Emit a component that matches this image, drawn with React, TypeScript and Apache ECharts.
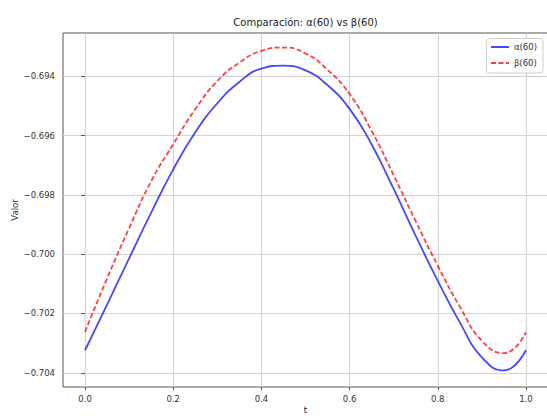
import React, { useEffect, useRef } from "react";
import * as echarts from "echarts";

const tValues = [0, 0.05, 0.1, 0.15, 0.2, 0.25, 0.3, 0.35, 0.4, 0.45, 0.5, 0.55, 0.6, 0.65, 0.7, 0.75, 0.8, 0.85, 0.9, 0.95, 1.0];
const alphaValues = [-0.70324, -0.7017, -0.70014, -0.6986, -0.69714, -0.69589, -0.69491, -0.69419, -0.69374, -0.69364, -0.6938, -0.6943, -0.6951, -0.6963, -0.6978, -0.69938, -0.7009, -0.7023, -0.70348, -0.70392, -0.70324];
const betaValues = [-0.70262, -0.70082, -0.69912, -0.69754, -0.69629, -0.69511, -0.69416, -0.69354, -0.69314, -0.69303, -0.69323, -0.69378, -0.6946, -0.69584, -0.69734, -0.69889, -0.70039, -0.70177, -0.70292, -0.70334, -0.70264];
const xTicks = [0, 0.2, 0.4, 0.6, 0.8, 1.0];
const yTicks = [-0.704, -0.702, -0.7, -0.698, -0.696, -0.694];
const seriesNames = ["α(60)", "β(60)"];
const titleText = "Comparación: α(60) vs β(60)";

const FONT = "DejaVu Sans";

export default function App() {
  const ref = useRef<HTMLDivElement>(null);
  useEffect(() => {
    if (!ref.current) return;
    const chart = echarts.init(ref.current, undefined, { renderer: "svg" });
    const alphaData = tValues.map((t, i) => [t, alphaValues[i]]);
    const betaData = tValues.map((t, i) => [t, betaValues[i]]);
    const fmtY = (v: number) => (v < 0 ? "\u2212" : "") + Math.abs(v).toFixed(3);
    chart.setOption({
      animation: false,
      backgroundColor: "#ffffff",
      textStyle: { fontFamily: FONT },
      title: {
        text: titleText,
        left: 305.5,
        top: 16,
        textAlign: "center",
        padding: 0,
        textStyle: { fontFamily: FONT, fontSize: 10, fontWeight: "normal", color: "#222", lineHeight: 12 },
      },
      legend: {
        orient: "vertical",
        right: 4,
        top: 38.5,
        itemWidth: 18,
        itemHeight: 8,
        itemGap: 6,
        padding: [3.5, 6, 5, 3.5],
        backgroundColor: "rgba(255,255,255,0.85)",
        borderColor: "#cccccc",
        borderWidth: 1,
        borderRadius: 3,
        itemStyle: { opacity: 0 },
        textStyle: { fontFamily: FONT, fontSize: 8.5, color: "#333", lineHeight: 10 },
        data: seriesNames,
      },
      grid: {
        left: 63,
        top: 33,
        width: 485,
        height: 354,
        outerBoundsMode: "none",
        show: true,
        borderColor: "#555",
        borderWidth: 1,
        backgroundColor: "transparent",
      },
      xAxis: {
        type: "value",
        min: -0.05,
        max: 1.05,
        name: "t",
        nameLocation: "middle",
        nameGap: 18,
        nameMoveOverlap: false,
        nameTextStyle: { fontFamily: FONT, fontSize: 8.5, color: "#222" },
        axisLine: { show: false },
        axisTick: { show: true, length: 3, customValues: xTicks, lineStyle: { color: "#555" } },
        axisLabel: {
          customValues: xTicks,
          margin: 7,
          fontFamily: FONT,
          fontSize: 8.5,
          color: "#333",
          formatter: (v: number) => v.toFixed(1),
        },
        splitLine: { show: true, customValues: xTicks, lineStyle: { color: "#d3d3d3", width: 1.2 } },
      },
      yAxis: {
        type: "value",
        min: -0.70448,
        max: -0.69254,
        name: "Valor",
        nameLocation: "middle",
        nameGap: 44,
        nameRotate: 90,
        nameMoveOverlap: false,
        nameTextStyle: { fontFamily: FONT, fontSize: 8.5, color: "#333" },
        axisLine: { show: false },
        axisTick: { show: true, length: 4, customValues: yTicks, lineStyle: { color: "#555" } },
        axisLabel: {
          customValues: yTicks,
          margin: 8,
          fontFamily: FONT,
          fontSize: 8.5,
          color: "#333",
          formatter: fmtY,
        },
        splitLine: { show: true, customValues: yTicks, lineStyle: { color: "#d3d3d3", width: 1.2 } },
      },
      series: [
        {
          name: seriesNames[0],
          type: "line",
          data: alphaData,
          symbol: "none",
          smooth: 0.5,
          lineStyle: { color: "rgba(0,0,255,0.72)", width: 1.8, type: "solid" },
          itemStyle: { color: "rgba(0,0,255,0.72)" },
        },
        {
          name: seriesNames[1],
          type: "line",
          data: betaData,
          symbol: "none",
          smooth: 0.5,
          lineStyle: { color: "rgba(255,0,0,0.75)", width: 1.8, type: [5, 2.5] },
          itemStyle: { color: "rgba(255,0,0,0.75)" },
        },
      ],
    });
    return () => chart.dispose();
  }, []);
  return (
    <div
      ref={ref}
      style={{ position: "fixed", left: 0, top: 0, width: 547, height: 416 }}
    />
  );
}
